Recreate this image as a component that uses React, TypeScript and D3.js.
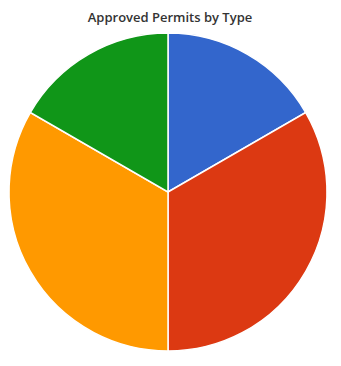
import React from "react";
import * as d3 from "d3";

const categories = ["Type A", "Type B", "Type C", "Type D"];
const values = [1, 2, 2, 1];
const colors = ["#3366cc", "#dc3912", "#ff9900", "#109618"];
const title = "Approved Permits by Type";

export default function App() {
  const width = 341;
  const height = 366;
  const cx = 168;
  const cy = 192;
  const r = 159;
  const pie = d3.pie<number>().sort(null).value((d) => d);
  const arcs = pie(values);
  const arc = d3.arc<d3.PieArcDatum<number>>().innerRadius(0).outerRadius(r);
  return (
    <svg width={width} height={height} style={{ position: "absolute", left: 0, top: 0 }}>
      <rect width={width} height={height} fill="#fff" />
      <text x={170} y={22} textAnchor="middle" fontFamily="'Open Sans', sans-serif" fontSize={13} fontWeight={600} fill="#333">
        {title}
      </text>
      <g transform={`translate(${cx},${cy})`}>
        {arcs.map((a, i) => (
          <path key={categories[i]} d={arc(a) || ""} fill={colors[i]} stroke="#fff" strokeWidth={1.5} />
        ))}
      </g>
    </svg>
  );
}
